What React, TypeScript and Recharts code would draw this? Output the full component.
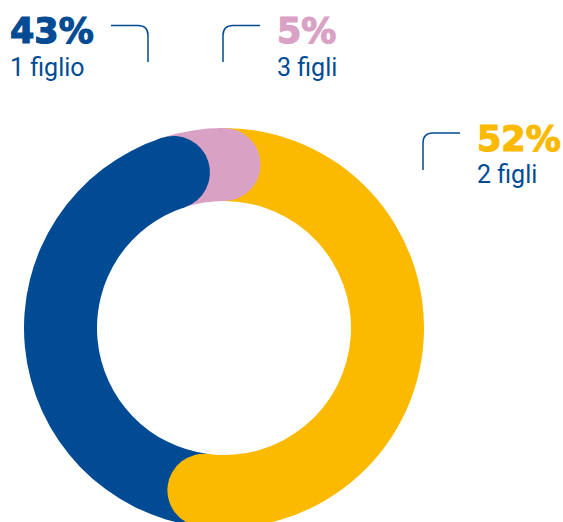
import { PieChart, Pie, Cell } from "recharts";

// Values, in clockwise order from 12 o'clock
const categories = ["2 figli", "1 figlio", "3 figli"];
const shares = [52, 43, 5];
const COLORS = ["#fbb900", "#004b93", "#d9a1c4"];
const TEXT_BLUE = "#004b93";

const CX = 224;
const CY = 328;
const INNER = 127;
const OUTER = 200;

// where each callout sits (layout only)
const CALLOUTS = [
  { x: 477, pctY: 151, catY: 183, bracket: "M423,170 V143 Q423,133 433,133 H460" },
  { x: 10, pctY: 43, catY: 76, bracket: "M111,25.5 H138 Q148,25.5 148,35.5 V62" },
  { x: 277, pctY: 43, catY: 76, bracket: "M223,62 V35.5 Q223,25.5 233,25.5 H260" },
];

const data = categories.map((name, i) => ({ name, value: shares[i] }));

const RAD = Math.PI / 180;

const polar = (cx: number, cy: number, r: number, a: number) =>
  [cx + r * Math.cos(a * RAD), cy - r * Math.sin(a * RAD)].map((v) => v.toFixed(2)).join(",");

// round cap drawn on the clockwise end of each slice, over the next slice
function EndCap(props: any) {
  const { cx, cy, innerRadius, outerRadius, endAngle, index } = props;
  const w = (outerRadius - innerRadius) / 2;
  const back = endAngle + 1.5; // reach a little back to hide the seam
  return (
    <path
      d={`M${polar(cx, cy, outerRadius, back)} L${polar(cx, cy, outerRadius, endAngle)} A${w},${w} 0 0 1 ${polar(
        cx,
        cy,
        innerRadius,
        endAngle
      )} L${polar(cx, cy, innerRadius, back)} Z`}
      fill={COLORS[index]}
      stroke="none"
    />
  );
}

export default function App() {
  return (
    <div style={{ position: "absolute", left: 0, top: 0, width: 563, height: 522 }}>
      <PieChart width={563} height={522} margin={{ top: 0, right: 0, bottom: 0, left: 0 }}>
        <Pie
          data={data}
          dataKey="value"
          nameKey="name"
          cx={CX}
          cy={CY}
          innerRadius={INNER}
          outerRadius={OUTER}
          startAngle={90}
          endAngle={-270}
          stroke="none"
          label={EndCap}
          labelLine={false}
          isAnimationActive={false}
        >
          {data.map((d, i) => (
            <Cell key={d.name} fill={COLORS[i]} />
          ))}
        </Pie>
        <g>
          {data.map((d, i) => (
            <g key={d.name}>
              <path d={CALLOUTS[i].bracket} fill="none" stroke={TEXT_BLUE} strokeWidth={1.5} />
              <text
                x={CALLOUTS[i].x}
                y={CALLOUTS[i].pctY}
                fill={COLORS[i]}
                stroke={COLORS[i]}
                strokeWidth={1.2}
                fontFamily="DejaVu Sans"
                fontWeight={700}
                fontSize={35}
              >
                {d.value}%
              </text>
              <text
                x={CALLOUTS[i].x}
                y={CALLOUTS[i].catY}
                fill={TEXT_BLUE}
                fontFamily="Roboto"
                fontSize={25}
              >
                {d.name}
              </text>
            </g>
          ))}
        </g>
      </PieChart>
    </div>
  );
}
